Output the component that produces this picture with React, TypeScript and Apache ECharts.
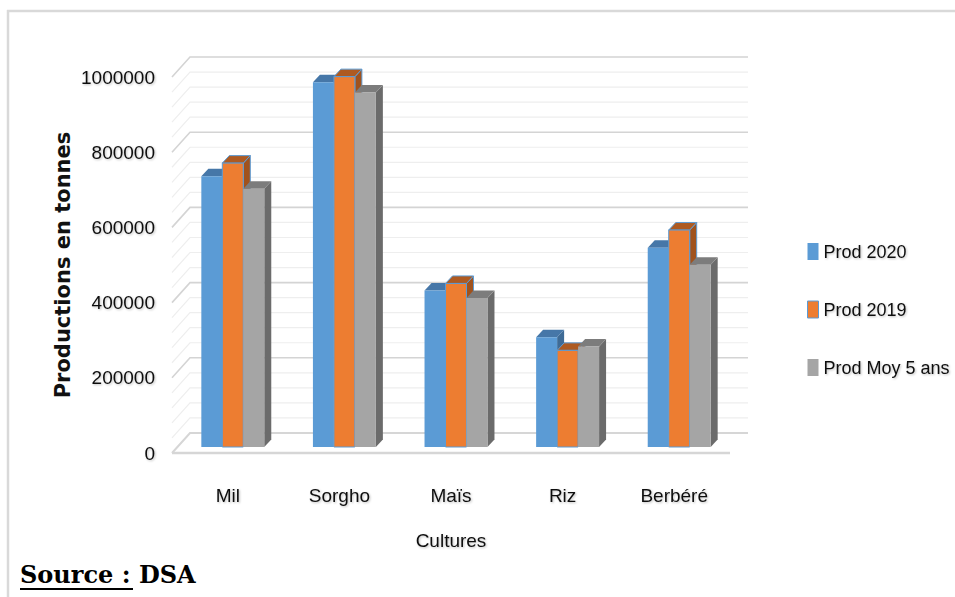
import React, { useEffect, useRef } from "react";
import * as echarts from "echarts";

const categories = ["Mil", "Sorgho", "Maïs", "Riz", "Berbéré"];
const seriesNames = ["Prod 2020", "Prod 2019", "Prod Moy 5 ans"];
const prod2020 = [720000, 970000, 416000, 292000, 530000];
const prod2019 = [755000, 985000, 435000, 257000, 577000];
const prodMoy5 = [687000, 943000, 396000, 267000, 485000];
const yMin = 0;
const yMax = 1000000;
const yInterval = 200000;
const yMinorInterval = 40000;

const NARROW = "'Liberation Sans', Arial, sans-serif";

// depth of the chart box (front plane -> back wall)
const WALL_DX = 18;
const WALL_DY = -20;
// bar placement inside the depth
const BAR_SX = 5;
const BAR_SY = -6;
const BAR_DX = 7;
const BAR_DY = -7.5;

const palette = [
  { front: "#5B9BD5", top: "#4677A8", side: "#3E6B96", stroke: null },
  { front: "#ED7D31", top: "#AE5A21", side: "#A0521D", stroke: "#5B9BD5" },
  { front: "#A5A5A5", top: "#7C7C7C", side: "#6B6B6B", stroke: null },
];

const gridValues: number[] = [];
for (let v = yMin; v <= yMax; v += yMinorInterval) gridValues.push(v);

function wallItem(params: any, api: any) {
  const cs = params.coordSys;
  const v = api.value(1);
  const y = api.coord([0, v])[1];
  const x0 = cs.x;
  const x1 = cs.x + cs.width;
  const isFloor = v === 0;
  const major = v % yInterval === 0;
  const stroke = isFloor ? "#D6D6D6" : major ? "#D4D4D4" : "#EEEEEE";
  const lw = isFloor ? 2 : major ? 1.6 : 1.2;
  const children: any[] = [
    {
      type: "polyline",
      shape: { points: [[x0, y], [x0 + WALL_DX, y + WALL_DY], [x1 + WALL_DX, y + WALL_DY]] },
      style: { stroke, lineWidth: lw, fill: null },
    },
  ];
  if (isFloor) {
    children.push({
      type: "line",
      shape: { x1: x0, y1: y, x2: x1, y2: y },
      style: { stroke: "#D6D6D6", lineWidth: 2.5 },
    });
  }
  return { type: "group", children };
}

function makeBarRenderer(k: number) {
  return (params: any, api: any) => {
    const idx = api.value(0);
    const val = api.value(1);
    const c = api.coord([idx, val]);
    const b = api.coord([idx, 0]);
    const band = api.size([1, 0])[0];
    const w = band * 0.188;
    const x = c[0] - 1.5 * w + k * w + BAR_SX;
    const yt = c[1] + BAR_SY;
    const yb = b[1] + BAR_SY;
    const p = palette[k];
    const strokeStyle = p.stroke ? { stroke: p.stroke, lineWidth: 1 } : {};
    return {
      type: "group",
      children: [
        {
          type: "polygon",
          shape: { points: [[x + w, yt], [x + w + BAR_DX, yt + BAR_DY], [x + w + BAR_DX, yb + BAR_DY], [x + w, yb]] },
          style: { fill: p.side, ...strokeStyle },
        },
        {
          type: "polygon",
          shape: { points: [[x, yt], [x + w, yt], [x + w + BAR_DX, yt + BAR_DY], [x + BAR_DX, yt + BAR_DY]] },
          style: { fill: p.top, ...strokeStyle },
        },
        {
          type: "rect",
          shape: { x, y: yt, width: w, height: yb - yt },
          style: { fill: p.front, ...strokeStyle },
        },
      ],
    };
  };
}

const textShadow = {
  textShadowColor: "rgba(0,0,0,0.25)",
  textShadowBlur: 2,
  textShadowOffsetX: 1,
  textShadowOffsetY: 1,
};

export default function App() {
  const ref = useRef<HTMLDivElement>(null);
  useEffect(() => {
    if (!ref.current) return;
    const chart = echarts.init(ref.current, null, { renderer: "svg" });
    const values = [prod2020, prod2019, prodMoy5];
    chart.setOption({
      animation: false,
      backgroundColor: "#ffffff",
      grid: { left: 172, right: 225, top: 77, bottom: 144, containLabel: false },
      legend: {
        orient: "vertical",
        left: 802,
        top: 236,
        itemWidth: 11,
        itemHeight: 17,
        itemGap: 37,
        icon: "rect",
        textStyle: { fontFamily: NARROW, fontSize: 18, lineHeight: 21, color: "#111", ...textShadow },
        data: seriesNames.map((n, i) => ({
          name: n,
          icon: "rect",
          itemStyle: palette[i].stroke
            ? { color: palette[i].front, borderColor: palette[i].stroke, borderWidth: 1 }
            : { color: palette[i].front, borderWidth: 0 },
        })),
      },
      xAxis: {
        type: "category",
        data: categories,
        name: "Cultures",
        nameLocation: "middle",
        nameGap: 78,
        nameTextStyle: { fontFamily: NARROW, fontSize: 19, color: "#111", ...textShadow },
        axisLine: { show: false },
        axisTick: { show: false },
        axisLabel: { fontFamily: NARROW, fontSize: 19, color: "#111", margin: 33, ...textShadow },
        splitLine: { show: false },
      },
      yAxis: {
        type: "value",
        min: yMin,
        max: yMax,
        interval: yInterval,
        name: "Productions en tonnes",
        nameLocation: "middle",
        nameGap: 99,
        nameMoveOverlap: false,
        nameTextStyle: { fontFamily: "'DejaVu Sans', sans-serif", fontWeight: "bold", fontSize: 21, color: "#111" },
        axisLine: { show: false },
        axisTick: { show: false },
        splitLine: { show: false },
        axisLabel: {
          fontFamily: NARROW,
          fontSize: 19,
          color: "#111",
          margin: 17,
          formatter: (v: number) => String(v),
          ...textShadow,
        },
      },
      graphic: [
        { type: "line", shape: { x1: 7, y1: 11, x2: 955, y2: 11 }, style: { stroke: "#D9D9D9", lineWidth: 2.5 } },
        { type: "line", shape: { x1: 8, y1: 10, x2: 8, y2: 597 }, style: { stroke: "#D9D9D9", lineWidth: 2.5 } },
        {
          type: "text",
          left: 20,
          top: 562,
          style: { text: "Source : DSA", font: "bold 24px 'DejaVu Serif', serif", fill: "#000" },
        },
        { type: "line", shape: { x1: 20, y1: 589, x2: 133, y2: 589 }, style: { stroke: "#000", lineWidth: 2 } },
      ],
      series: [
        {
          type: "custom",
          name: "wall",
          silent: true,
          z: 1,
          renderItem: wallItem,
          data: gridValues.map((v) => [0, v]),
        },
        ...seriesNames.map((n, k) => ({
          type: "custom",
          name: n,
          z: 2 + k,
          itemStyle: { color: palette[k].front },
          renderItem: makeBarRenderer(k),
          data: values[k].map((v, i) => [i, v]),
        })),
      ],
    });
    return () => chart.dispose();
  }, []);
  return <div ref={ref} style={{ position: "fixed", left: 0, top: 0, width: 955, height: 597 }} />;
}
